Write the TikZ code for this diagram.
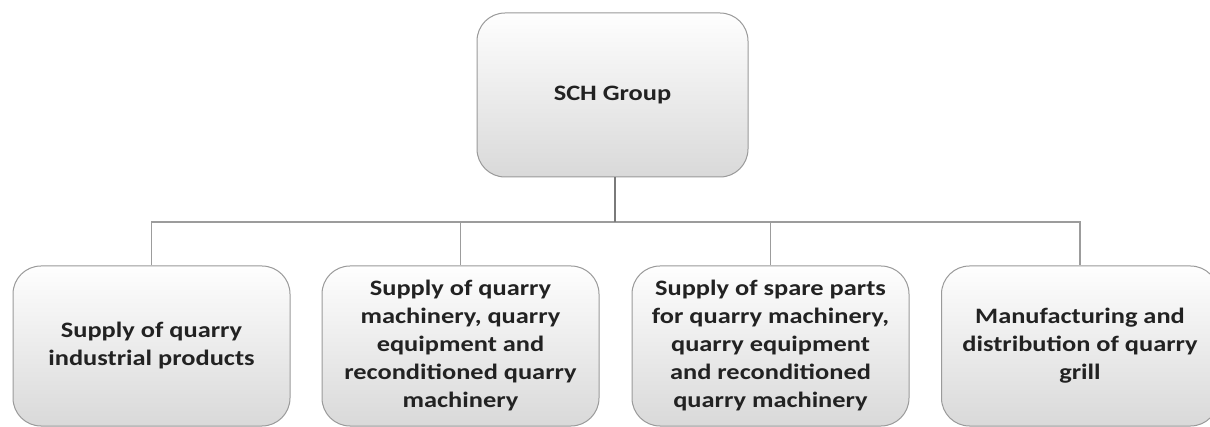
\documentclass[tikz,border=0pt]{standalone}
\usepackage{fontspec}
\setmainfont{Carlito}[FakeStretch=1.2]
\definecolor{boxline}{HTML}{9A9A9A}
\definecolor{boxtop}{HTML}{FEFEFE}
\definecolor{boxbot}{HTML}{D9D9D9}
\definecolor{conncol}{HTML}{9C9C9C}
\definecolor{stemcol}{HTML}{7A7A7A}
\definecolor{txt}{HTML}{222222}
\tikzset{
  orgbox/.style={draw=boxline, line width=1pt, rounded corners=28pt,
    top color=boxtop, bottom color=boxbot, text=txt, align=center,
    font=\fontsize{22}{28}\selectfont\bfseries, inner sep=0pt},
  topbox/.style={orgbox, minimum width=271pt, minimum height=164pt},
  subbox/.style={orgbox, minimum width=277pt, minimum height=160pt},
  conn/.style={draw=conncol, line width=1.4pt},
  stemline/.style={draw=stemcol, line width=2.2pt}
}
\begin{document}
\begin{tikzpicture}[x=1pt,y=-1pt]
\useasboundingbox (0,0) rectangle (1210,427);
\fill[white] (0,0) rectangle (1210,427);
\node[topbox] (top) at (612.5,95) {SCH Group};
\node[subbox] (b1) at (151.5,346) {Supply of quarry\\industrial products};
\node[subbox] (b2) at (460.5,346) {Supply of quarry\\machinery, quarry\\equipment and\\reconditioned quarry\\machinery};
\node[subbox] (b3) at (770.5,346) {Supply of spare parts\\for quarry machinery,\\quarry equipment\\and reconditioned\\quarry machinery};
\node[subbox] (b4) at (1080,346) {Manufacturing and\\distribution of quarry\\grill};
\coordinate (hub) at (615,222);
\draw[conn] (b1.north) |- (hub) -| (b4.north);
\draw[conn] (hub) -| (b2.north);
\draw[conn] (hub) -| (b3.north);
\draw[stemline] (top.south -| hub) -- (hub);
\end{tikzpicture}
\end{document}
